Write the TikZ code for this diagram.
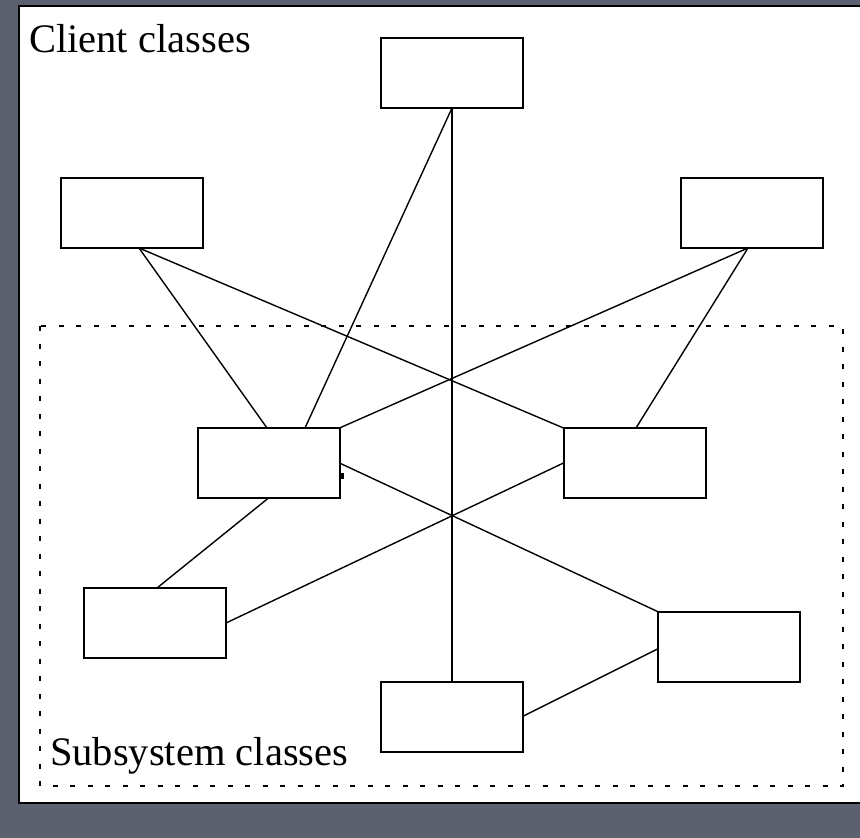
\documentclass[tikz,border=0pt]{standalone}
\usepackage{fontspec}
\setmainfont{Liberation Serif}
\definecolor{bgslate}{RGB}{92,97,112}
\tikzset{
  cls/.style={draw=black, fill=white, line width=2pt, minimum width=142pt, minimum height=70pt, inner sep=0pt, outer sep=0pt},
  link/.style={draw=black, line width=1.4pt},
  lbl/.style={anchor=base west, inner sep=0pt, font=\fontsize{40.5}{48}\selectfont}
}
\begin{document}
\begin{tikzpicture}[x=1pt,y=-1pt]
\useasboundingbox (0,0) rectangle (860,838);
\fill[bgslate] (0,0) rectangle (860,838);
\fill[white] (19,6) rectangle (860,803);
\draw[black, line width=2.5pt] (860,6) -- (19,6) -- (19,803) -- (860,803);
% subsystem boundary
\draw[black, line width=2pt, dash pattern=on 5pt off 12.5pt] (40,326) rectangle (843,786);
% labels
\node[lbl] (lclient) at (29,52) {Client classes};
\node[lbl] (lsub) at (50,765) {Subsystem classes};
% connectors (drawn first, boxes on top)
\coordinate (topS) at (452,108);
\path (452,73) coordinate (topc);
\node[cls] (top) at (452,73) {};
\node[cls] (cl) at (132,213) {};
\node[cls] (cr) at (751.5,213) {};
\node[cls] (sa) at (268.5,463) {};
\node[cls] (sb) at (634.5,463) {};
\node[cls] (sc) at (155,623) {};
\node[cls] (sd) at (728.5,646.5) {};
\node[cls] (se) at (451.5,716.5) {};
\begin{scope}[on background layer/.try]
\end{scope}
\draw[link] (top.south) -- (top.south |- se.north);
\draw[link] (top.south) -- ([xshift=36.5pt]sa.north);
\draw[link] ([xshift=7pt]cl.south) -- ([xshift=-1.5pt]sa.north);
\draw[link] ([xshift=7pt]cl.south) -- (sb.north west);
\draw[link] ([xshift=-3.5pt]cr.south) -- (sa.north east);
\draw[link] ([xshift=-3.5pt]cr.south) -- ([xshift=1.5pt]sb.north);
\draw[link] (sa.east) -- (sd.north west);
\draw[link] (sb.west) -- (sc.east);
\draw[link] (sa.south) -- ([xshift=2pt]sc.north);
\draw[link] ([yshift=-2.5pt]sd.west) -- (se.east);
\fill[black] (340.5,473) rectangle (343.5,479);
\end{tikzpicture}
\end{document}
